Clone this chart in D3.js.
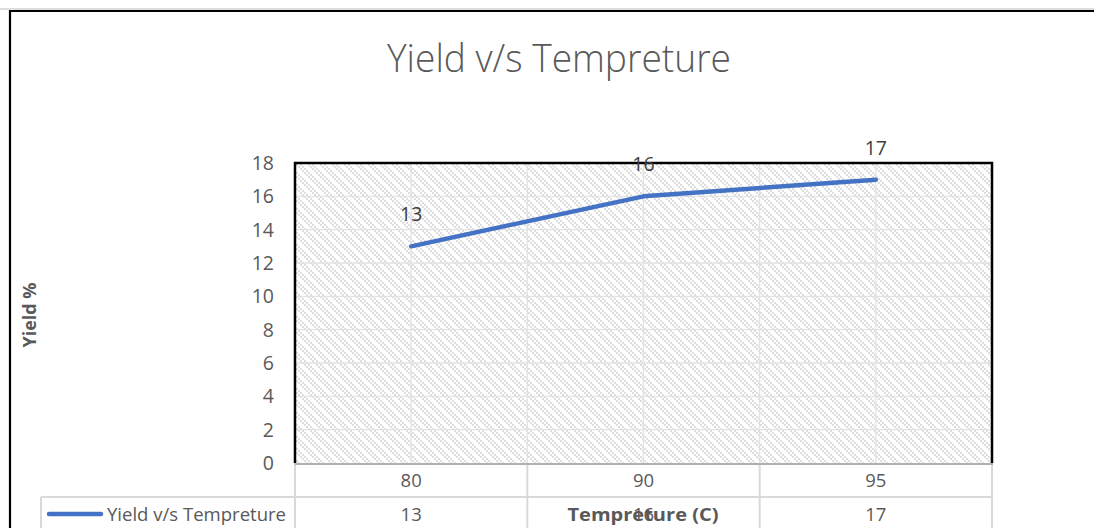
<!DOCTYPE html>
<html><head><meta charset="utf-8">
<script src="https://cdn.jsdelivr.net/npm/d3@7"></script>
<style>
body{margin:0;background:#fff;overflow:hidden;}
text{font-family:"Open Sans","Noto Sans",sans-serif;}
</style>
</head><body>
<svg id="c" width="1094" height="528"></svg>
<script>
const categories = ["80", "90", "95"];
const yieldValues = [13, 16, 17];
const yTicks = [0, 2, 4, 6, 8, 10, 12, 14, 16, 18];
const seriesName = "Yield v/s Tempreture";
const chartTitle = "Yield v/s Tempreture";
const xTitle = "Tempreture (C)";
const yTitle = "Yield %";

const svg = d3.select("#c");
const W = 1094, H = 528;
const plot = {l: 295, r: 992, t: 163, b: 463};

const x = d3.scaleBand().domain(categories).range([plot.l, plot.r]);
const y = d3.scaleLinear().domain([0, 18]).range([plot.b, plot.t]);

// pattern (wide downward diagonal)
const defs = svg.append("defs");
const pat = defs.append("pattern").attr("id", "hatch").attr("patternUnits", "userSpaceOnUse")
  .attr("width", 12).attr("height", 12);
pat.append("rect").attr("width", 12).attr("height", 12).attr("fill", "#fff");
for (let r = 0; r < 6; r++) {
  for (let c = 0; c < 6; c++) {
    const d = ((c - r) % 6 + 6) % 6;
    if (d === 0 || d === 2) {
      pat.append("rect").attr("x", c * 2).attr("y", r * 2).attr("width", 2).attr("height", 2).attr("fill", "#dedede");
    }
  }
}

// outer chart border
svg.append("line").attr("x1", 0).attr("x2", W).attr("y1", 9).attr("y2", 9).attr("stroke", "#bbb").attr("stroke-width", 1);
svg.append("line").attr("x1", 9).attr("x2", W).attr("y1", 11).attr("y2", 11).attr("stroke", "#000").attr("stroke-width", 2.2);
svg.append("line").attr("x1", 10).attr("x2", 10).attr("y1", 10).attr("y2", H).attr("stroke", "#000").attr("stroke-width", 2.2);

// title
svg.append("text").attr("x", 559).attr("y", 72).attr("text-anchor", "middle")
  .attr("font-size", 38).attr("font-weight", 300).attr("fill", "#595959")
  .attr("textLength", 344).attr("lengthAdjust", "spacingAndGlyphs")
  .text(chartTitle);

// plot area fill
svg.append("rect").attr("x", plot.l).attr("y", plot.t).attr("width", plot.r - plot.l).attr("height", plot.b - plot.t)
  .attr("fill", "url(#hatch)");

// gridlines
const g = svg.append("g");
g.selectAll(".hg").data(yTicks.filter(v => v > 0 && v < 18)).join("line")
  .attr("x1", plot.l).attr("x2", plot.r).attr("y1", d => y(d)).attr("y2", d => y(d))
  .attr("stroke", "#e2e2e2").attr("stroke-width", 1.3);
const vlines = [];
categories.forEach((c, i) => {
  vlines.push(x(c) + x.bandwidth() / 2);
  if (i > 0) vlines.push(x(c));
});
g.selectAll(".vg").data(vlines).join("line")
  .attr("x1", d => d).attr("x2", d => d).attr("y1", plot.t).attr("y2", plot.b)
  .attr("stroke", "#e2e2e2").attr("stroke-width", 1.3);

// y tick labels
svg.append("g").selectAll("text").data(yTicks).join("text")
  .attr("x", 274).attr("y", d => y(d) + 7).attr("text-anchor", "end")
  .attr("font-size", 19.5).attr("fill", "#595959").text(d => d);

// data table
const tbl = svg.append("g").attr("stroke", "#d9d9d9").attr("stroke-width", 2);
const rowTop = 497;
tbl.append("line").attr("x1", 41).attr("x2", plot.r).attr("y1", rowTop).attr("y2", rowTop);
tbl.append("line").attr("x1", 41).attr("x2", 41).attr("y1", rowTop).attr("y2", H);
const colEdges = categories.map(c => x(c)).concat([plot.r]);
tbl.selectAll(".ce").data(colEdges).join("line")
  .attr("x1", d => d).attr("x2", d => d).attr("y1", plot.b).attr("y2", H);
// plot bottom (axis line)
svg.append("line").attr("x1", plot.l).attr("x2", plot.r + 1).attr("y1", plot.b + 1).attr("y2", plot.b + 1)
  .attr("stroke", "#b0b0b0").attr("stroke-width", 2);

// plot border top/left/right
svg.append("path")
  .attr("d", `M${plot.l},${plot.b}V${plot.t}H${plot.r}V${plot.b}`)
  .attr("fill", "none").attr("stroke", "#000").attr("stroke-width", 2.5);

// table texts
svg.append("g").selectAll("text").data(categories).join("text")
  .attr("x", d => x(d) + x.bandwidth() / 2).attr("y", 487).attr("text-anchor", "middle")
  .attr("font-size", 18.5).attr("fill", "#595959").text(d => d);
svg.append("g").selectAll("text").data(yieldValues).join("text")
  .attr("x", (d, i) => x(categories[i]) + x.bandwidth() / 2).attr("y", 521).attr("text-anchor", "middle")
  .attr("font-size", 18.5).attr("fill", "#595959").text(d => d);

// legend key
svg.append("line").attr("x1", 49).attr("x2", 101).attr("y1", 514).attr("y2", 514)
  .attr("stroke", "#4472c4").attr("stroke-width", 4.5).attr("stroke-linecap", "round");
svg.append("text").attr("x", 107).attr("y", 521).attr("font-size", 18)
  .attr("fill", "#595959").attr("textLength", 179).attr("lengthAdjust", "spacingAndGlyphs").text(seriesName);

// axis titles
svg.append("text").attr("x", 643).attr("y", 521).attr("text-anchor", "middle")
  .attr("font-size", 17.5).attr("font-weight", 700).attr("fill", "#595959")
  .attr("textLength", 151).attr("lengthAdjust", "spacingAndGlyphs").text(xTitle);
svg.append("text").attr("transform", "translate(36,315) rotate(-90)").attr("text-anchor", "middle")
  .attr("font-size", 18).attr("font-weight", 700).attr("fill", "#595959").text(yTitle);

// line
const line = d3.line().x((d, i) => x(categories[i]) + x.bandwidth() / 2).y(d => y(d));
svg.append("path").datum(yieldValues).attr("d", line)
  .attr("fill", "none").attr("stroke", "#4472c4").attr("stroke-width", 4.5)
  .attr("stroke-linecap", "round").attr("stroke-linejoin", "round");

// data labels
svg.append("g").selectAll("text").data(yieldValues).join("text")
  .attr("x", (d, i) => x(categories[i]) + x.bandwidth() / 2).attr("y", d => y(d) - 25)
  .attr("text-anchor", "middle").attr("font-size", 19.5).attr("fill", "#404040").text(d => d);
</script>
</body></html>
